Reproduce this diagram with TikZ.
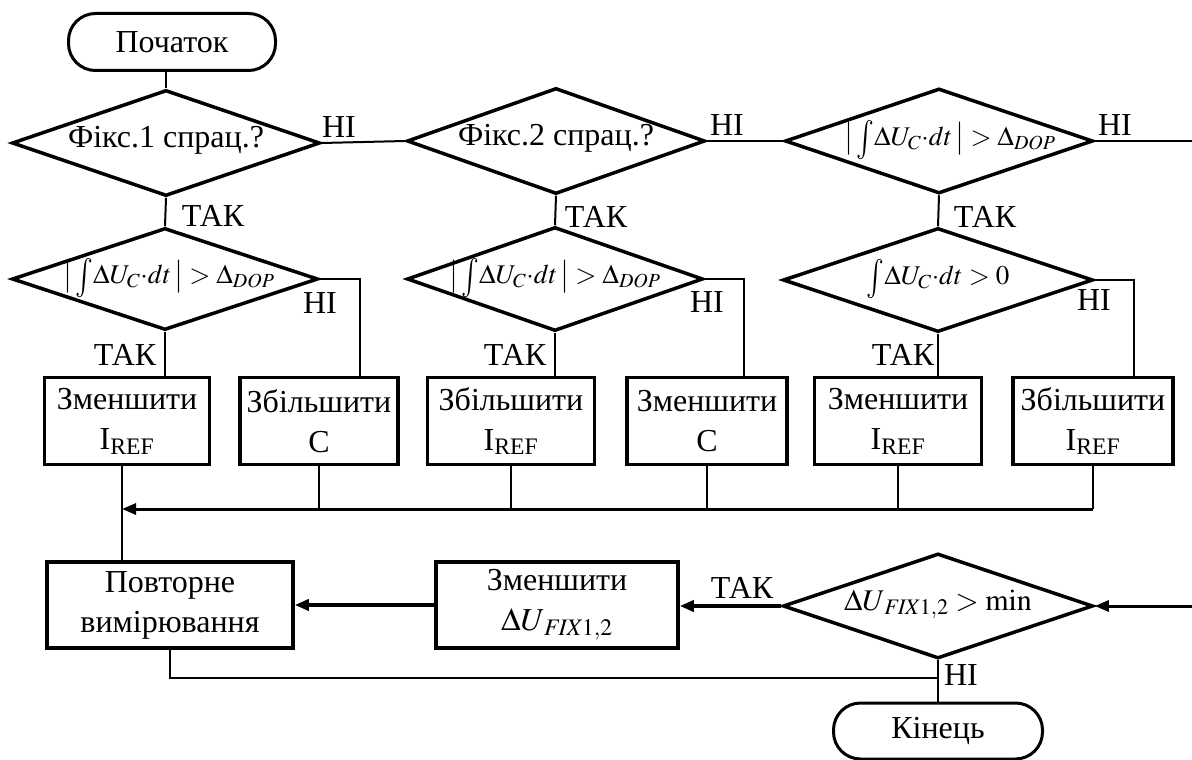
\documentclass[tikz,border=0pt]{standalone}
\usepackage{mathptmx}
\usepackage{graphicx}
\usepackage{fontspec}
\setmainfont{Liberation Serif}
\usetikzlibrary{shapes.geometric,arrows.meta,calc}
\newcommand{\mfnt}{\fontsize{27}{30}\selectfont}
\newcommand{\bfnt}{\fontsize{32}{40}\selectfont}
\newcommand{\bint}{\mathop{\raisebox{-0.18em}{\scalebox{1.1}[1.45]{$\int$}}}\!}
\newcommand{\intexpr}{\bigl|\,\bint\Delta U_{C}{\cdot}dt\,\bigr| > \Delta_{\mathit{DOP}}}
\begin{document}
\begin{tikzpicture}[x=1pt,y=-1pt,
  every node/.style={font=\bfnt},
  decis/.style={diamond, draw, line width=3.5pt, inner sep=0pt, aspect=2.9, text height=12pt, text depth=4pt},
  proc/.style={rectangle, draw, line width=3.5pt, inner sep=0pt, align=center},
  term/.style={rectangle, rounded corners=27pt, draw, line width=3pt, minimum width=207pt, minimum height=57pt, inner sep=0pt},
  conn/.style={line width=2pt},
  arr/.style={line width=3pt, -{Triangle[length=14pt,width=11pt]}},
  lbl/.style={inner sep=0pt}
]
\fill[white] (0,0) rectangle (1192,760);
\useasboundingbox (0,0) rectangle (1192,760);

% terminators
\node[term] (start) at (172,42) {Початок};
\node[term, minimum width=209pt, minimum height=56pt] (fin) at (938,731) {Кінець};

% top row of decisions
\node[decis, minimum width=308pt, minimum height=106pt] (d1) at (166,143) {Фікс.1 спрац.?};
\node[decis, minimum width=298pt, minimum height=106pt] (d2) at (556,141) {Фікс.2 спрац.?};
\node[decis, minimum width=308pt, minimum height=105pt, font=\mfnt] (d3) at (939,141)
  {\hspace*{22pt}$\intexpr$};

% second row of decisions
\node[decis, minimum width=306pt, minimum height=102pt, font=\mfnt] (d1b) at (165,279)
  {\hspace*{8pt}$\intexpr$};
\node[decis, minimum width=296pt, minimum height=104pt, font=\mfnt] (d2b) at (555,279)
  {$\intexpr$};
\node[decis, minimum width=310pt, minimum height=104pt, font=\mfnt] (d3b) at (938,280)
  {$\bint\Delta U_{C}{\cdot}dt > 0$};

% process boxes
\node[proc, minimum width=165pt, minimum height=87pt] (b1) at (127,421) {Зменшити\\I\textsubscript{REF}};
\node[proc, minimum width=158pt, minimum height=87pt] (b2) at (319,421) {Збільшити\\C};
\node[proc, minimum width=167pt, minimum height=87pt] (b3) at (511,421) {Збільшити\\I\textsubscript{REF}};
\node[proc, minimum width=160pt, minimum height=87pt] (b4) at (707,421) {Зменшити\\C};
\node[proc, minimum width=167pt, minimum height=87pt] (b5) at (898,421) {Зменшити\\I\textsubscript{REF}};
\node[proc, minimum width=160pt, minimum height=87pt] (b6) at (1093,421) {Збільшити\\I\textsubscript{REF}};

% bottom row
\node[proc, minimum width=246pt, minimum height=86pt] (rep) at (170,605) {Повторне\\вимірювання};
\node[proc, minimum width=242pt, minimum height=86pt] (redu) at (557,605) {Зменшити\\$\Delta U_{\,\mathit{FIX}1,2}$};
\node[decis, minimum width=310pt, minimum height=105pt, font=\fontsize{30}{34}\selectfont] (d4) at (938,606)
  {$\Delta U_{\,\mathit{FIX}1,2} > \mathrm{min}$};

% helper coordinates
\coordinate (edge) at (1200,0);
\coordinate (bus) at (122,509);
\coordinate (j) at (938,678);

% connectors, top
\draw[conn] (d1.north |- start.south) -- (d1.north);
\draw[conn] (d1.east) -- (d2.west);
\draw[conn] (d2.east) -- (d3.west);
\draw[conn] (d3.east) -- (d3.east -| edge) -- (d4.east -| edge);
\draw[arr] (d4.east -| edge) -- (d4.east);

\draw[conn] (d1.south) -- (d1b.north);
\draw[conn] (d2.south) -- (d2b.north);
\draw[conn] (d3.south) -- (d3b.north);

\draw[conn] (d1b.south) -- (d1b.south |- b1.north);
\draw[conn] (d2b.south) -- (d2b.south |- b3.north);
\draw[conn] (d3b.south) -- (d3b.south |- b5.north);
\draw[conn] (d1b.east) -| ([xshift=41pt]b2.north);
\draw[conn] (d2b.east) -| ([xshift=37pt]b4.north);
\draw[conn] (d3b.east) -| ([xshift=41pt]b6.north);

% bus
\draw[conn] (b1.south -| bus) -- (bus |- rep.north);
\draw[conn] (b2.south) -- (b2.south |- bus);
\draw[conn] (b3.south) -- (b3.south |- bus);
\draw[conn] (b4.south) -- (b4.south |- bus);
\draw[conn] (b5.south) -- (b5.south |- bus);
\draw[conn] (b6.south) -- (b6.south |- bus);
\draw[arr] (b6.south |- bus) -- (bus);

% bottom
\draw[arr, line width=3.5pt] (d4.west) -- (d4.west -| redu.east);
\draw[arr, line width=3.5pt] (redu.west) -- (redu.west -| rep.east);
\draw[conn] (d4.south) -- (fin.north);
\draw[conn] (rep.south) |- (j);

% labels
\node[lbl] (n1) at (339,127) {НІ};
\node[lbl] (n2) at (727,125) {НІ};
\node[lbl] (n3) at (1115,125) {НІ};
\node[lbl] (t1) at (213,216) {ТАК};
\node[lbl] (t2) at (596,217) {ТАК};
\node[lbl] (t3) at (985,217) {ТАК};
\node[lbl] (n4) at (320,303) {НІ};
\node[lbl] (n5) at (707,302) {НІ};
\node[lbl] (n6) at (1094,300) {НІ};
\node[lbl] (t4) at (125,355) {ТАК};
\node[lbl] (t5) at (515,355) {ТАК};
\node[lbl] (t6) at (903,355) {ТАК};
\node[lbl] (t7) at (742,588) {ТАК};
\node[lbl] (n7) at (961,675) {НІ};
\end{tikzpicture}
\end{document}
